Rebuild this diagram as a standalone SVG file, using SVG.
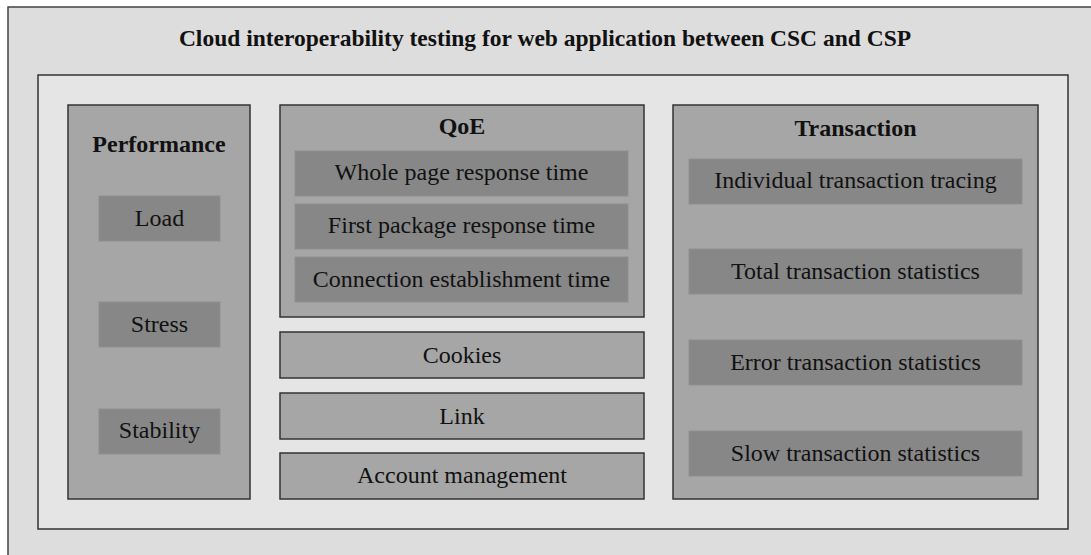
<svg xmlns="http://www.w3.org/2000/svg" width="1091" height="555" viewBox="0 0 1091 555">
  <style>
    .outer { fill: #dddddd; stroke: #444444; stroke-width: 1.5; }
    .inner { fill: #e5e5e5; stroke: #333333; stroke-width: 1.5; }
    .box { fill: #a6a6a6; stroke: #333333; stroke-width: 1.5; }
    .sub { fill: #878787; stroke: #8f8f8f; stroke-width: 1; }
    .t { font-family: "Liberation Serif", "Times New Roman", serif; font-size: 24px; fill: #111111; text-anchor: middle; }
    .b { font-weight: bold; }
    .title { font-size: 23.5px; }
  </style>
  <rect width="1091" height="555" fill="#ffffff"/>
  <g id="frame">
    <rect class="outer" x="8" y="7" width="1100" height="560"/>
    <text class="t b title" x="545" y="46">Cloud interoperability testing for web application between CSC and CSP</text>
    <rect class="inner" x="38" y="75" width="1030" height="454"/>
  </g>
  <g id="performance">
    <rect class="box" x="68" y="105" width="182" height="394"/>
    <text class="t b" x="159" y="152">Performance</text>
    <g id="load"><rect class="sub" x="99" y="196" width="121" height="45"/><text class="t" x="159.5" y="226">Load</text></g>
    <g id="stress"><rect class="sub" x="99" y="302" width="121" height="45"/><text class="t" x="159.5" y="332">Stress</text></g>
    <g id="stability"><rect class="sub" x="99" y="409" width="121" height="45"/><text class="t" x="159.5" y="438">Stability</text></g>
  </g>
  <g id="qoe">
    <rect class="box" x="280" y="105" width="364" height="212"/>
    <text class="t b" x="462" y="134">QoE</text>
    <g id="whole"><rect class="sub" x="295" y="151" width="333" height="45"/><text class="t" x="461.5" y="180">Whole page response time</text></g>
    <g id="first"><rect class="sub" x="295" y="204" width="333" height="45"/><text class="t" x="461.5" y="233">First package response time</text></g>
    <g id="connection"><rect class="sub" x="295" y="257" width="333" height="45"/><text class="t" x="461.5" y="287">Connection establishment time</text></g>
  </g>
  <g id="cookies"><rect class="box" x="280" y="332" width="364" height="46"/><text class="t" x="462" y="363">Cookies</text></g>
  <g id="link"><rect class="box" x="280" y="393" width="364" height="46"/><text class="t" x="462" y="424">Link</text></g>
  <g id="account"><rect class="box" x="280" y="453" width="364" height="46"/><text class="t" x="462" y="483">Account management</text></g>
  <g id="transaction">
    <rect class="box" x="673" y="105" width="365" height="394"/>
    <text class="t b" x="855.5" y="136">Transaction</text>
    <g id="individual"><rect class="sub" x="689" y="159" width="333" height="45"/><text class="t" x="855.5" y="188">Individual transaction tracing</text></g>
    <g id="total"><rect class="sub" x="689" y="249" width="333" height="45"/><text class="t" x="855.5" y="279">Total transaction statistics</text></g>
    <g id="error"><rect class="sub" x="689" y="340" width="333" height="45"/><text class="t" x="855.5" y="370">Error transaction statistics</text></g>
    <g id="slow"><rect class="sub" x="689" y="431" width="333" height="45"/><text class="t" x="855.5" y="461">Slow transaction statistics</text></g>
  </g>
  <g id="connectors"/>
</svg>
